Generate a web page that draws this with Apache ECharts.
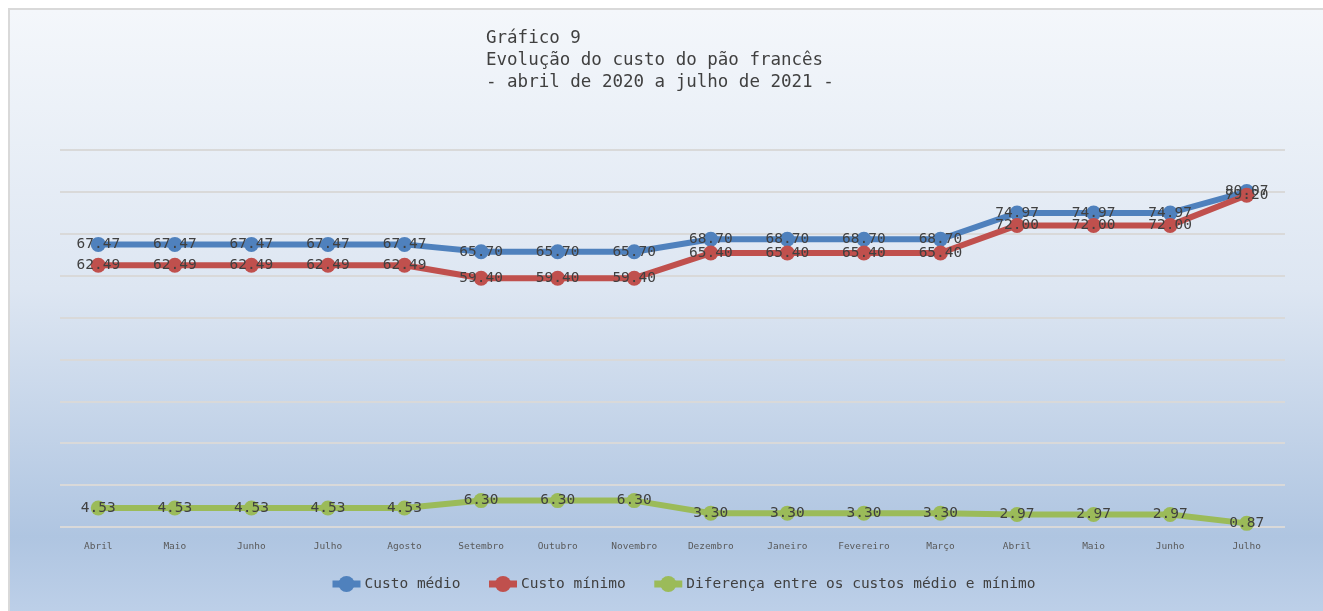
<html>
<head>
    <meta charset="UTF-8">
    <title>Gráfico 9</title>
    <script src="https://cdn.jsdelivr.net/npm/echarts@6/dist/echarts.min.js"></script>
    <style>
        body {
            padding: 0;
            margin: 0;
            overflow: hidden;
            background: #ffffff;
        }
        .frame {
            position: absolute;
            left: 8px;
            top: 8px;
            width: 1330px;
            height: 620px;
            border-left: 2px solid #d9d9d9;
            border-top: 2px solid #d9d9d9;
            background: linear-gradient(to bottom, #f4f7fb 0%, #dde6f2 45%, #afc5e1 85%, #c0d2ea 100%);
        }
        #chart {
            position: absolute;
            left: 0;
            top: 0;
            width: 1323px;
            height: 611px;
        }
    </style>
</head>
<body>
<div class="frame"></div>
<div id="chart"></div>

<script>
    const meses = ['Abril', 'Maio', 'Junho', 'Julho', 'Agosto', 'Setembro', 'Outubro', 'Novembro',
        'Dezembro', 'Janeiro', 'Fevereiro', 'Março', 'Abril', 'Maio', 'Junho', 'Julho'];
    const custoMedio = [67.47, 67.47, 67.47, 67.47, 67.47, 65.70, 65.70, 65.70,
        68.70, 68.70, 68.70, 68.70, 74.97, 74.97, 74.97, 80.07];
    const custoMinimo = [62.49, 62.49, 62.49, 62.49, 62.49, 59.40, 59.40, 59.40,
        65.40, 65.40, 65.40, 65.40, 72.00, 72.00, 72.00, 79.20];
    const diferenca = [4.53, 4.53, 4.53, 4.53, 4.53, 6.30, 6.30, 6.30,
        3.30, 3.30, 3.30, 3.30, 2.97, 2.97, 2.97, 0.87];

    const mono = '"DejaVu Sans Mono", "Liberation Mono", monospace';

    function serie(name, data, color) {
        return {
            name: name,
            type: 'line',
            data: data,
            symbol: 'circle',
            symbolSize: 15,
            lineStyle: {width: 6, color: color},
            itemStyle: {color: color},
            label: {
                show: true,
                position: 'inside',
                color: '#404040',
                fontFamily: mono,
                fontSize: 14.5,
                formatter: p => p.value.toFixed(2)
            }
        };
    }

    const ec = echarts.init(document.getElementById('chart'));
    ec.setOption({
        animation: false,
        title: {
            text: 'Gráfico 9\nEvolução do custo do pão francês\n- abril de 2020 a julho de 2021 -',
            left: 481,
            top: 22,
            textStyle: {
                fontFamily: mono,
                fontSize: 17.5,
                fontWeight: 'normal',
                color: '#404040',
                lineHeight: 22
            }
        },
        legend: {
            left: 324,
            top: 571,
            itemWidth: 28,
            itemHeight: 20,
            itemGap: 25,
            lineStyle: {width: 7},
            textStyle: {fontFamily: mono, fontSize: 14.5, color: '#404040', padding: [0, 0, 0, -1]}
        },
        grid: {left: 60, right: 38, top: 150, bottom: 84},
        xAxis: {
            type: 'category',
            data: meses,
            axisLine: {show: false},
            axisTick: {show: false},
            axisLabel: {
                margin: 15,
                fontFamily: mono,
                fontSize: 9.5,
                color: '#595959'
            }
        },
        yAxis: {
            type: 'value',
            min: 0,
            max: 90,
            interval: 10,
            axisLabel: {show: false},
            axisLine: {show: false},
            axisTick: {show: false},
            splitLine: {lineStyle: {color: '#d9d9d9', width: 2}}
        },
        series: [
            serie('Custo médio', custoMedio, '#4f81bd'),
            serie('Custo mínimo', custoMinimo, '#c0504d'),
            serie('Diferença entre os custos médio e mínimo', diferenca, '#9bbb59')
        ]
    });
</script>
</body>
</html>
